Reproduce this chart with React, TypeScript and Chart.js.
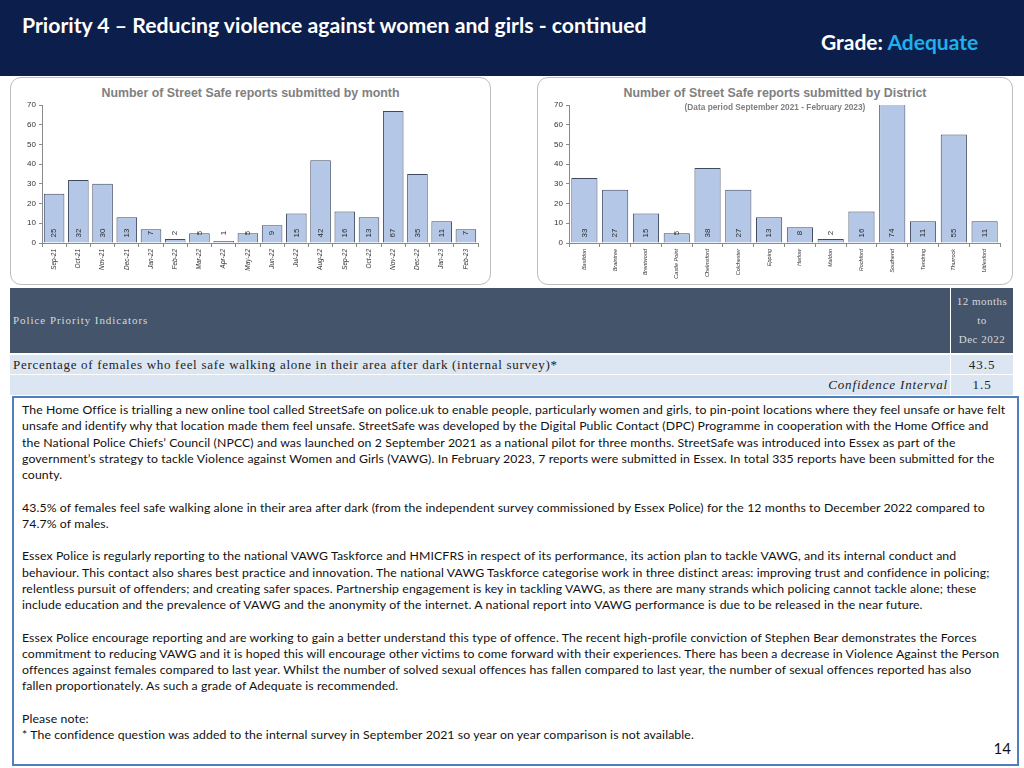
import React, { useEffect, useRef } from "react";
import { Chart, registerables } from "chart.js";

Chart.register(...registerables);

const monthLabels = ["Sep-21","Oct-21","Nov-21","Dec-21","Jan-22","Feb-22","Mar-22","Apr-22","May-22","Jun-22","Jul-22","Aug-22","Sep-22","Oct-22","Nov-22","Dec-22","Jan-23","Feb-23"];
const monthValues = [25,32,30,13,7,2,5,1,5,9,15,42,16,13,67,35,11,7];

const districtLabels = ["Basildon","Braintree","Brentwood","Castle Point","Chelmsford","Colchester","Epping","Harlow","Maldon","Rochford","Southend","Tendring","Thurrock","Uttlesford"];
const districtValues = [33,27,15,5,38,27,13,8,2,16,74,11,55,11];

const yTicksMax = 70;
const yStep = 10;

const bodyParagraphs: string[][] = [
  [
    "The Home Office is trialling a new online tool called StreetSafe on police.uk to enable people, particularly women and girls, to pin-point locations where they feel unsafe or have felt",
    "unsafe and identify why that location made them feel unsafe. StreetSafe was developed by the Digital Public Contact (DPC) Programme in cooperation with the Home Office and",
    "the National Police Chiefs\u2019 Council (NPCC) and was launched on 2 September 2021 as a national pilot for three months. StreetSafe was introduced into Essex as part of the",
    "government\u2019s strategy to tackle Violence against Women and Girls (VAWG). In February 2023, 7 reports were submitted in Essex. In total 335 reports have been submitted for the",
    "county.",
  ],
  [
    "43.5% of females feel safe walking alone in their area after dark (from the independent survey commissioned by Essex Police) for the 12 months to December 2022 compared to",
    "74.7% of males.",
  ],
  [
    "Essex Police is regularly reporting to the national VAWG Taskforce and HMICFRS in respect of its performance, its action plan to tackle VAWG, and its internal conduct and",
    "behaviour. This contact also shares best practice and innovation. The national VAWG Taskforce categorise work in three distinct areas: improving trust and confidence in policing;",
    "relentless pursuit of offenders; and creating safer spaces. Partnership engagement is key in tackling VAWG, as there are many strands which policing cannot tackle alone; these",
    "include education and the prevalence of VAWG and the anonymity of the internet. A national report into VAWG performance is due to be released in the near future.",
  ],
  [
    "Essex Police encourage reporting and are working to gain a better understand this type of offence. The recent high-profile conviction of Stephen Bear demonstrates the Forces",
    "commitment to reducing VAWG and it is hoped this will encourage other victims to come forward with their experiences. There has been a decrease in Violence Against the Person",
    "offences against females compared to last year. Whilst the number of solved sexual offences has fallen compared to last year, the number of sexual offences reported has also",
    "fallen proportionately. As such a grade of Adequate is recommended.",
  ],
  [
    "Please note:",
    "* The confidence question was added to the internal survey in September 2021 so year on year comparison is not available.",
  ],
];

const valueLabelPlugin = {
  id: "valueLabels",
  afterDatasetsDraw(chart: any) {
    const ctx = chart.ctx;
    const meta = chart.getDatasetMeta(0);
    const ds = chart.data.datasets[0];
    const yScale = chart.scales.y;
    const base = yScale.getPixelForValue(0);
    ctx.save();
    ctx.fillStyle = "#2b2b2b";
    ctx.font = "8px 'Liberation Sans', Arial, sans-serif";
    ctx.textAlign = "center";
    ctx.textBaseline = "middle";
    meta.data.forEach((bar: any, i: number) => {
      ctx.save();
      ctx.translate(bar.x, base - 10);
      ctx.rotate(-Math.PI / 2);
      ctx.fillText(String(ds.data[i]), 0, 0);
      ctx.restore();
    });
    ctx.restore();
  },
};

function makeConfig(labels: string[], values: number[], yWidth: number, padRight: number, xFont: number) {
  return {
    type: "bar" as const,
    data: {
      labels,
      datasets: [
        {
          data: values,
          backgroundColor: "#b4c7e7",
          borderColor: "#3e4a62",
          borderWidth: 1,
          barPercentage: 0.85,
          categoryPercentage: 1,
        },
      ],
    },
    options: {
      responsive: false,
      animation: false as const,
      layout: { padding: { top: 25, right: padRight, left: 0, bottom: 0 } },
      plugins: { legend: { display: false }, tooltip: { enabled: false }, title: { display: false } },
      scales: {
        y: {
          min: 0,
          max: yTicksMax,
          ticks: {
            stepSize: yStep,
            color: "#333",
            padding: 3,
            font: { family: "'Liberation Sans', Arial, sans-serif", size: 8 },
          },
          grid: { display: true, drawOnChartArea: false, drawTicks: true, tickLength: 3, color: "#8a8a8a" },
          border: { display: true, color: "#8a8a8a" },
          afterFit(scale: any) {
            scale.width = yWidth;
          },
        },
        x: {
          ticks: {
            minRotation: 90,
            maxRotation: 90,
            autoSkip: false,
            color: "#333",
            padding: 2,
            font: { family: "'Liberation Sans', Arial, sans-serif", size: xFont, style: "italic" as const },
          },
          grid: { display: true, drawOnChartArea: false, drawTicks: true, tickLength: 4, color: "#8a8a8a", offset: true },
          border: { display: true, color: "#8a8a8a" },
          afterFit(scale: any) {
            scale.height = 40;
          },
        },
      },
    },
    plugins: [valueLabelPlugin],
  };
}

function BarChart(props: { labels: string[]; values: number[]; left: number; top: number; width: number; height: number; yWidth: number; padRight: number; xFont: number }) {
  const ref = useRef<HTMLCanvasElement | null>(null);
  useEffect(() => {
    if (!ref.current) return;
    const chart = new Chart(ref.current, makeConfig(props.labels, props.values, props.yWidth, props.padRight, props.xFont) as any);
    return () => chart.destroy();
  }, []);
  return (
    <canvas
      ref={ref}
      width={props.width}
      height={props.height}
      style={{ position: "absolute", left: props.left, top: props.top, width: props.width, height: props.height }}
    />
  );
}

const abs = (s: React.CSSProperties): React.CSSProperties => ({ position: "absolute", ...s });

export default function App() {
  const serif = "'Liberation Serif', 'DejaVu Serif', serif";
  const bodyFont = "Lato, 'Open Sans', sans-serif";
  const sans = "'Liberation Sans', Arial, sans-serif";
  const lines: React.ReactNode[] = [];
  bodyParagraphs.forEach((p, pi) => {
    if (pi > 0) lines.push(<div key={"b" + pi} style={{ height: 16.25 }} />);
    p.forEach((l, li) => lines.push(<div key={pi + "-" + li} style={{ whiteSpace: "nowrap", height: 16.25 }}>{l}</div>));
  });
  return (
    <div style={abs({ left: 0, top: 0, width: 1024, height: 768, background: "#fff", overflow: "hidden", fontFamily: bodyFont })}>
      {/* header */}
      <div style={abs({ left: 0, top: 0, width: 1024, height: 76, background: "#0c1e4c" })} />
      <div style={abs({ left: 22, top: 11, color: "#fff", fontWeight: 700, fontSize: 21.2, lineHeight: "28px", whiteSpace: "nowrap" })}>
        Priority 4 – Reducing violence against women and girls - continued
      </div>
      <div style={abs({ left: 821, top: 28, color: "#fff", fontWeight: 700, fontSize: 21, lineHeight: "28px", whiteSpace: "nowrap" })}>
        Grade: <span style={{ color: "#1fb0ee" }}>Adequate</span>
      </div>

      {/* chart panels */}
      <div style={abs({ left: 10, top: 77, width: 481, height: 208, border: "1px solid #bdbdbd", borderRadius: 11, boxSizing: "border-box" })} />
      <div style={abs({ left: 537, top: 77, width: 476, height: 208, border: "1px solid #bdbdbd", borderRadius: 11, boxSizing: "border-box" })} />

      <div style={abs({ left: 10, width: 481, top: 85, textAlign: "center", color: "#808080", fontWeight: 700, fontSize: 12.4, lineHeight: "16px", fontFamily: sans, whiteSpace: "nowrap" })}>
        Number of Street Safe reports submitted by month
      </div>
      <div style={abs({ left: 575, width: 400, top: 85, textAlign: "center", color: "#808080", fontWeight: 700, fontSize: 12.4, lineHeight: "16px", fontFamily: sans, whiteSpace: "nowrap" })}>
        Number of Street Safe reports submitted by District
      </div>

      <BarChart labels={monthLabels} values={monthValues} left={10} top={80} width={483} height={203} yWidth={32} padRight={15} xFont={6.5} />
      <BarChart labels={districtLabels} values={districtValues} left={547} top={80} width={465} height={203} yWidth={22} padRight={12} xFont={5.5} />

      <div style={abs({ left: 575, width: 400, top: 102, textAlign: "center", color: "#808080", fontWeight: 700, fontSize: 8.3, lineHeight: "11px", fontFamily: sans, whiteSpace: "nowrap" })}>
        (Data period September 2021 - February 2023)
      </div>

      {/* table */}
      <div style={abs({ left: 10, top: 288, width: 940, height: 65, background: "#44546a" })} />
      <div style={abs({ left: 951, top: 288, width: 62, height: 65, background: "#44546a" })} />
      <div style={abs({ left: 13, top: 312, color: "#d6d9de", fontSize: 11, lineHeight: "16px", fontFamily: serif, whiteSpace: "nowrap", letterSpacing: 0.95 })}>
        Police Priority Indicators
      </div>
      <div style={abs({ left: 951, width: 62, top: 292, color: "#d6d9de", fontSize: 11, lineHeight: "19px", fontFamily: serif, textAlign: "center", whiteSpace: "nowrap", letterSpacing: 0.5 })}>
        <div>12 months</div>
        <div>to</div>
        <div>Dec 2022</div>
      </div>
      <div style={abs({ left: 10, top: 355, width: 940, height: 19, background: "#dce6f2" })} />
      <div style={abs({ left: 951, top: 355, width: 62, height: 19, background: "#dce6f2" })} />
      <div style={abs({ left: 10, top: 375, width: 940, height: 20, background: "#dce6f2" })} />
      <div style={abs({ left: 951, top: 375, width: 62, height: 20, background: "#dce6f2" })} />
      <div style={abs({ left: 13, top: 355, color: "#222", fontSize: 13, lineHeight: "19px", fontFamily: serif, whiteSpace: "nowrap", letterSpacing: 0.71 })}>
        Percentage of females who feel safe walking alone in their area after dark (internal survey)*
      </div>
      <div style={abs({ left: 951, width: 62, top: 355, color: "#222", fontSize: 13, lineHeight: "19px", fontFamily: serif, textAlign: "center", letterSpacing: 1 })}>43.5</div>
      <div style={abs({ left: 10, width: 938, top: 375, color: "#222", fontSize: 13, lineHeight: "20px", fontFamily: serif, textAlign: "right", fontStyle: "italic", whiteSpace: "nowrap", letterSpacing: 0.85 })}>
        Confidence Interval
      </div>
      <div style={abs({ left: 951, width: 62, top: 375, color: "#222", fontSize: 13, lineHeight: "20px", fontFamily: serif, textAlign: "center", letterSpacing: 1 })}>1.5</div>

      {/* text box */}
      <div style={abs({ left: 12, top: 396, width: 1007, height: 370, border: "2px solid #4f7fbd", boxSizing: "border-box", padding: "4px 0 0 8px", fontSize: 12.27, lineHeight: "16.25px", color: "#111", letterSpacing: 0.11 })}>
        {lines}
      </div>
      <div style={abs({ left: 980, width: 31, top: 738, textAlign: "right", fontSize: 15, lineHeight: "20px", color: "#111" })}>14</div>
    </div>
  );
}
